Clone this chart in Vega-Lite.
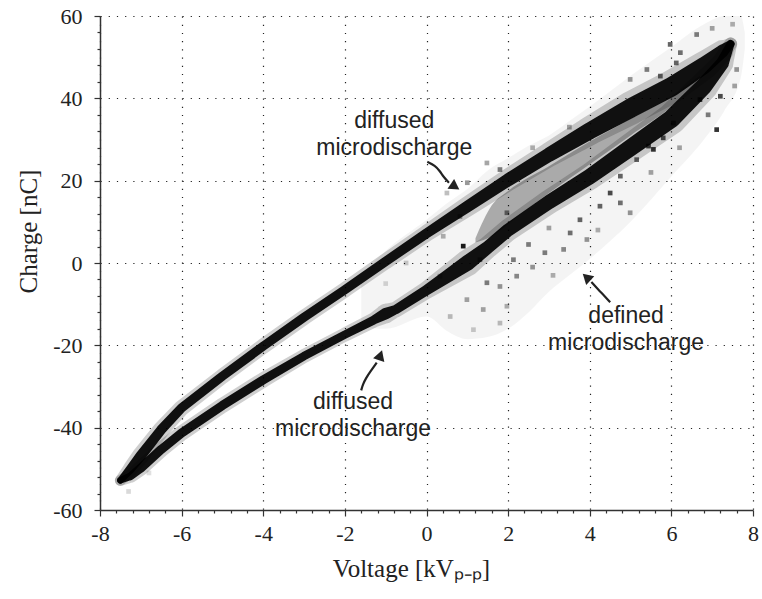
{
  "$schema": "https://vega.github.io/schema/vega-lite/v6.json",
  "width": 653,
  "height": 494,
  "autosize": {"type": "none"},
  "padding": {"left": 100, "top": 16, "right": 9, "bottom": 89},
  "background": "white",
  "config": {
    "view": {"stroke": null},
    "locale": {"number": {"decimal": ".", "thousands": ",", "grouping": [3], "currency": ["$", ""], "minus": "-"}},
    "axis": {"labelFont": "Liberation Serif", "labelFontSize": 22, "labelColor": "#222"}
  },
  "resolve": {"axis": {"x": "independent", "y": "independent"}},
  "datasets": {
    "envelope": [
      {"v": -1.6, "q": -15.5, "q2": -3},
      {"v": -1, "q": -16, "q2": 3},
      {"v": 0, "q": -13, "q2": 10.5},
      {"v": 0.5, "q": -16.5, "q2": 14.5},
      {"v": 1, "q": -18.5, "q2": 18},
      {"v": 1.5, "q": -18, "q2": 22.5},
      {"v": 2, "q": -16, "q2": 25.5},
      {"v": 2.5, "q": -12, "q2": 28.5},
      {"v": 3, "q": -7, "q2": 31},
      {"v": 3.5, "q": -3, "q2": 34.5},
      {"v": 4, "q": 1, "q2": 38},
      {"v": 5, "q": 10, "q2": 45.5},
      {"v": 6, "q": 21, "q2": 52.5},
      {"v": 6.8, "q": 30, "q2": 58},
      {"v": 7.3, "q": 37, "q2": 60},
      {"v": 7.7, "q": 45, "q2": 60},
      {"v": 7.8, "q": 52, "q2": 56}
    ],
    "inner": [
      {"v": 1.2, "q": 5, "q2": 6},
      {"v": 1.6, "q": 6.5, "q2": 14},
      {"v": 2, "q": 9.5, "q2": 17.5},
      {"v": 3, "q": 17, "q2": 23.5},
      {"v": 4, "q": 24, "q2": 29.5},
      {"v": 5, "q": 31, "q2": 35},
      {"v": 6, "q": 38, "q2": 40.5},
      {"v": 6.7, "q": 45, "q2": 45.5}
    ],
    "branches": [
      {"branch": "upper", "i": 1, "v": -7.5, "q": -52.8, "spread": 2.5},
      {"branch": "upper", "i": 2, "v": -7.25, "q": -50, "spread": 3.5},
      {"branch": "upper", "i": 3, "v": -7.0, "q": -46.8, "spread": 4},
      {"branch": "upper", "i": 4, "v": -6.5, "q": -40.5, "spread": 3.8},
      {"branch": "upper", "i": 5, "v": -6.0, "q": -35.2, "spread": 3.6},
      {"branch": "upper", "i": 6, "v": -5.0, "q": -27.5, "spread": 3.5},
      {"branch": "upper", "i": 7, "v": -4.0, "q": -20.2, "spread": 3.5},
      {"branch": "upper", "i": 8, "v": -3.0, "q": -13.2, "spread": 3.5},
      {"branch": "upper", "i": 9, "v": -2.0, "q": -6.5, "spread": 3.5},
      {"branch": "upper", "i": 10, "v": -1.0, "q": 0.4, "spread": 3.6},
      {"branch": "upper", "i": 11, "v": 0.0, "q": 7.2, "spread": 3.8},
      {"branch": "upper", "i": 12, "v": 1.0, "q": 13.7, "spread": 4.5},
      {"branch": "upper", "i": 13, "v": 2.0, "q": 20.2, "spread": 5},
      {"branch": "upper", "i": 14, "v": 3.0, "q": 26.3, "spread": 5.5},
      {"branch": "upper", "i": 15, "v": 4.0, "q": 32.1, "spread": 6.5},
      {"branch": "upper", "i": 16, "v": 5.0, "q": 37.6, "spread": 7.5},
      {"branch": "upper", "i": 17, "v": 6.0, "q": 42.8, "spread": 7.5},
      {"branch": "upper", "i": 18, "v": 6.8, "q": 48.0, "spread": 6.5},
      {"branch": "upper", "i": 19, "v": 7.25, "q": 51.5, "spread": 5},
      {"branch": "upper", "i": 20, "v": 7.45, "q": 53.2, "spread": 3},
      {"branch": "lower", "i": 1, "v": -7.5, "q": -52.8, "spread": 2.5},
      {"branch": "lower", "i": 2, "v": -7.25, "q": -51.8, "spread": 3},
      {"branch": "lower", "i": 3, "v": -7.0, "q": -49.8, "spread": 3.5},
      {"branch": "lower", "i": 4, "v": -6.5, "q": -45.3, "spread": 3.5},
      {"branch": "lower", "i": 5, "v": -6.0, "q": -41.3, "spread": 3.5},
      {"branch": "lower", "i": 6, "v": -5.0, "q": -34.6, "spread": 3.5},
      {"branch": "lower", "i": 7, "v": -4.0, "q": -28.4, "spread": 3.5},
      {"branch": "lower", "i": 8, "v": -3.0, "q": -22.6, "spread": 3.2},
      {"branch": "lower", "i": 9, "v": -2.0, "q": -17.4, "spread": 3.2},
      {"branch": "lower", "i": 10, "v": -1.3, "q": -13.9, "spread": 3.4},
      {"branch": "lower", "i": 11, "v": -1.0, "q": -12.3, "spread": 4.5},
      {"branch": "lower", "i": 12, "v": -0.75, "q": -11.3, "spread": 3.6},
      {"branch": "lower", "i": 13, "v": 0.0, "q": -6.6, "spread": 4},
      {"branch": "lower", "i": 14, "v": 0.5, "q": -3.3, "spread": 5},
      {"branch": "lower", "i": 15, "v": 1.0, "q": 0.0, "spread": 6},
      {"branch": "lower", "i": 16, "v": 1.5, "q": 3.8, "spread": 5},
      {"branch": "lower", "i": 17, "v": 2.0, "q": 8.0, "spread": 5},
      {"branch": "lower", "i": 18, "v": 3.0, "q": 14.8, "spread": 5.5},
      {"branch": "lower", "i": 19, "v": 4.0, "q": 21.0, "spread": 6},
      {"branch": "lower", "i": 20, "v": 5.0, "q": 28.0, "spread": 6.5},
      {"branch": "lower", "i": 21, "v": 6.0, "q": 35.0, "spread": 7},
      {"branch": "lower", "i": 22, "v": 6.8, "q": 43.0, "spread": 6.5},
      {"branch": "lower", "i": 23, "v": 7.25, "q": 48.5, "spread": 5},
      {"branch": "lower", "i": 24, "v": 7.45, "q": 53.2, "spread": 3}
    ],
    "specks": [
      {"v": 0.9, "q": 4.1, "d": 0.9},
      {"v": 1.31, "q": 0.8, "d": 0.5},
      {"v": 1.48, "q": -4.8, "d": 0.5},
      {"v": 1.8, "q": -5.7, "d": 0.4},
      {"v": 0.99, "q": -8.9, "d": 0.35},
      {"v": 0.58, "q": -13, "d": 0.25},
      {"v": 1.39, "q": -11.3, "d": 0.35},
      {"v": 1.97, "q": -10.5, "d": 0.3},
      {"v": 1.8, "q": -14.6, "d": 0.25},
      {"v": 1.15, "q": -16.2, "d": 0.2},
      {"v": 2.13, "q": 0.8, "d": 0.5},
      {"v": 2.21, "q": -3.2, "d": 0.45},
      {"v": 0.33, "q": -3.2, "d": 0.3},
      {"v": 2.6, "q": -1, "d": 0.4},
      {"v": 2.9, "q": 2.5, "d": 0.5},
      {"v": 3.1, "q": -3, "d": 0.3},
      {"v": 3.36, "q": 3.3, "d": 0.45},
      {"v": 3.52, "q": 7.3, "d": 0.55},
      {"v": 3.76, "q": 10.5, "d": 0.6},
      {"v": 3.93, "q": 5.7, "d": 0.4},
      {"v": 4.25, "q": 13.8, "d": 0.6},
      {"v": 4.5, "q": 17, "d": 0.7},
      {"v": 4.75, "q": 14.6, "d": 0.55},
      {"v": 4.99, "q": 12.2, "d": 0.4},
      {"v": 4.75, "q": 21.1, "d": 0.6},
      {"v": 5.15, "q": 25.1, "d": 0.6},
      {"v": 5.44, "q": 28.4, "d": 0.75},
      {"v": 5.56, "q": 27.6, "d": 0.8},
      {"v": 5.8, "q": 30.4, "d": 0.7},
      {"v": 6.05, "q": 34, "d": 0.7},
      {"v": 7.11, "q": 32.4, "d": 0.8},
      {"v": 6.7, "q": 39.7, "d": 0.8},
      {"v": 7.2, "q": 40.5, "d": 0.7},
      {"v": 6.9, "q": 36, "d": 0.5},
      {"v": 5.5, "q": 22, "d": 0.35},
      {"v": 6.2, "q": 28, "d": 0.35},
      {"v": 4.2, "q": 8, "d": 0.3},
      {"v": 3.0, "q": 8.5, "d": 0.35},
      {"v": 2.5, "q": 4.5, "d": 0.5},
      {"v": 1.48, "q": 24.3, "d": 0.35},
      {"v": 1.8, "q": 22.7, "d": 0.5},
      {"v": 0.5, "q": 17, "d": 0.25},
      {"v": 1.0, "q": 19.5, "d": 0.4},
      {"v": 2.6, "q": 28, "d": 0.3},
      {"v": 3.5, "q": 33, "d": 0.35},
      {"v": 4.99, "q": 44.6, "d": 0.4},
      {"v": 5.4, "q": 47, "d": 0.5},
      {"v": 5.73, "q": 45.4, "d": 0.6},
      {"v": 5.97, "q": 53.1, "d": 0.6},
      {"v": 6.12, "q": 48.6, "d": 0.6},
      {"v": 6.22, "q": 51.1, "d": 0.55},
      {"v": 6.62, "q": 55.5, "d": 0.5},
      {"v": 7.0, "q": 57, "d": 0.35},
      {"v": 7.5, "q": 58, "d": 0.3},
      {"v": 7.6, "q": 47, "d": 0.4},
      {"v": 7.55, "q": 43, "d": 0.35},
      {"v": 0.82, "q": 11.3, "d": 0.4},
      {"v": 0.41, "q": 6.5, "d": 0.3},
      {"v": 1.97, "q": 12.2, "d": 0.5},
      {"v": -0.5, "q": 0, "d": 0.2},
      {"v": -1, "q": -5, "d": 0.15},
      {"v": -7.3, "q": -55.5, "d": 0.15},
      {"v": -6.8, "q": -51, "d": 0.12}
    ],
    "arrows": [
      {"arrow": "a1", "i": 1, "v": 0.02, "q": 24.57},
      {"arrow": "a1", "i": 2, "v": 0.21, "q": 23.67},
      {"arrow": "a1", "i": 3, "v": 0.33, "q": 22.3},
      {"arrow": "a1", "i": 4, "v": 0.42, "q": 20.9},
      {"arrow": "a1", "i": 5, "v": 0.55, "q": 19.5},
      {"arrow": "a2", "i": 1, "v": -1.6, "q": -30.94},
      {"arrow": "a2", "i": 2, "v": -1.56, "q": -29.55},
      {"arrow": "a2", "i": 3, "v": -1.48, "q": -27.9},
      {"arrow": "a2", "i": 4, "v": -1.37, "q": -26.3},
      {"arrow": "a2", "i": 5, "v": -1.22, "q": -24.2},
      {"arrow": "a3", "i": 1, "v": 4.5, "q": -9.55},
      {"arrow": "a3", "i": 2, "v": 4.37, "q": -8.09},
      {"arrow": "a3", "i": 3, "v": 4.21, "q": -6.46},
      {"arrow": "a3", "i": 4, "v": 4.04, "q": -4.6}
    ],
    "heads": [
      {"arrow": "a1", "v": 0.7, "q": 18.54},
      {"arrow": "a2", "v": -1.13, "q": -22.4},
      {"arrow": "a3", "v": 3.92, "q": -3.43}
    ],
    "notes": [
      {"v": -0.79, "q": 32.9, "label": "diffused\nmicrodischarge"},
      {"v": -1.8, "q": -35.4, "label": "diffused\nmicrodischarge"},
      {"v": 4.89, "q": -14.56, "label": "defined\nmicrodischarge"}
    ]
  },
  "layer": [
    {
      "data": {"name": "heads"},
      "mark": {"type": "point", "opacity": 0},
      "encoding": {
        "x": {
          "field": "v", "type": "quantitative",
          "scale": {"domain": [-8, 8], "nice": false, "zero": false},
          "axis": {
            "orient": "bottom", "title": null, "labels": false, "domain": false, "grid": false,
            "values": [-7.6, -7.2, -6.8, -6.4, -5.6, -5.2, -4.8, -4.4, -3.6, -3.2, -2.8, -2.4, -1.6, -1.2, -0.8, -0.4, 0.4, 0.8, 1.2, 1.6, 2.4, 2.8, 3.2, 3.6, 4.4, 4.8, 5.2, 5.6, 6.4, 6.8, 7.2, 7.6],
            "tickSize": 3, "tickColor": "#333", "tickWidth": 1.2
          }
        },
        "y": {
          "field": "q", "type": "quantitative",
          "scale": {"domain": [-60, 60], "nice": false, "zero": false},
          "axis": {
            "orient": "left", "title": null, "labels": false, "domain": false, "grid": false,
            "values": [-56, -52, -48, -44, -36, -32, -28, -24, -16, -12, -8, -4, 4, 8, 12, 16, 24, 28, 32, 36, 44, 48, 52, 56],
            "tickSize": 3, "tickColor": "#333", "tickWidth": 1.2
          }
        }
      }
    },
    {
      "encoding": {
        "x": {
          "field": "v", "type": "quantitative",
          "scale": {"domain": [-8, 8], "nice": false, "zero": false},
          "axis": {
            "orient": "bottom",
            "title": "Voltage [kVₚ₋ₚ]",
            "values": [-8, -6, -4, -2, 0, 2, 4, 6, 8],
            "format": "d",
            "labelFont": "Liberation Serif", "labelFontSize": 22, "labelColor": "#222",
            "labelPadding": 7, "labelOverlap": false, "labelFlush": false, "labelBound": false,
            "tickSize": 6, "tickColor": "#333", "tickWidth": 1.2,
            "domainColor": "#333", "domainWidth": 1.5,
            "grid": true, "gridColor": "#222", "gridDash": [1.2, 7], "gridWidth": 1.2,
            "titleFont": "Liberation Serif", "titleFontSize": 25, "titleFontWeight": "normal", "titleColor": "#222",
            "titleX": 311, "titleY": 66, "titleAlign": "center", "titleBaseline": "alphabetic"
          }
        },
        "y": {
          "field": "q", "type": "quantitative",
          "scale": {"domain": [-60, 60], "nice": false, "zero": false},
          "axis": {
            "orient": "left",
            "title": "Charge [nC]",
            "values": [-60, -40, -20, 0, 20, 40, 60],
            "format": "d",
            "labelFont": "Liberation Serif", "labelFontSize": 22, "labelColor": "#222",
            "labelPadding": 12, "labelOverlap": false, "labelFlush": false, "labelBound": false,
            "tickSize": 6, "tickColor": "#333", "tickWidth": 1.2,
            "domainColor": "#333", "domainWidth": 1.5,
            "grid": true, "gridColor": "#222", "gridDash": [1.2, 7], "gridWidth": 1.2,
            "titleFont": "Liberation Serif", "titleFontSize": 25, "titleFontWeight": "normal", "titleColor": "#222",
            "titleX": -72, "titleY": 215, "titleAngle": -90, "titleAlign": "center", "titleBaseline": "middle"
          }
        }
      },
      "resolve": {"scale": {"size": "independent"}},
      "layer": [
        {
          "data": {"name": "envelope"},
          "mark": {"type": "area", "color": "#000", "opacity": 0.045, "interpolate": "monotone"},
          "encoding": {"y2": {"field": "q2"}}
        },
        {
          "data": {"name": "inner"},
          "mark": {"type": "area", "color": "#000", "opacity": 0.3, "interpolate": "monotone"},
          "encoding": {"y2": {"field": "q2"}}
        },
        {
          "data": {"name": "specks"},
          "mark": {"type": "point", "shape": "square", "filled": true, "size": 22, "color": "#000"},
          "encoding": {
            "opacity": {"field": "d", "type": "quantitative", "scale": null, "legend": null}
          }
        },
        {
          "data": {"name": "branches"},
          "mark": {"type": "trail", "color": "#111", "opacity": 0.2},
          "encoding": {
            "size": {"field": "spread", "type": "quantitative", "scale": {"domain": [0, 10], "range": [0, 44]}, "legend": null},
            "detail": {"field": "branch"},
            "order": {"field": "i", "type": "quantitative"}
          }
        },
        {
          "data": {"name": "branches"},
          "mark": {"type": "trail", "color": "#000", "opacity": 0.92},
          "encoding": {
            "size": {"field": "spread", "type": "quantitative", "scale": {"domain": [0, 10], "range": [0, 26]}, "legend": null},
            "detail": {"field": "branch"},
            "order": {"field": "i", "type": "quantitative"}
          }
        },
        {
          "data": {"name": "arrows"},
          "mark": {"type": "line", "color": "#222", "strokeWidth": 2.2, "interpolate": "basis"},
          "encoding": {
            "detail": {"field": "arrow"},
            "order": {"field": "i", "type": "quantitative"}
          }
        },
        {
          "data": {"name": "heads"},
          "transform": [{"filter": "datum.arrow === 'a1'"}],
          "mark": {"type": "point", "shape": "triangle-up", "filled": true, "size": 140, "color": "#222", "opacity": 1, "angle": 124},
          "encoding": {}
        },
        {
          "data": {"name": "heads"},
          "transform": [{"filter": "datum.arrow === 'a2'"}],
          "mark": {"type": "point", "shape": "triangle-up", "filled": true, "size": 140, "color": "#222", "opacity": 1, "angle": 19},
          "encoding": {}
        },
        {
          "data": {"name": "heads"},
          "transform": [{"filter": "datum.arrow === 'a3'"}],
          "mark": {"type": "point", "shape": "triangle-up", "filled": true, "size": 140, "color": "#222", "opacity": 1, "angle": -47},
          "encoding": {}
        },
        {
          "data": {"name": "notes"},
          "mark": {"type": "text", "font": "Liberation Sans", "fontSize": 23, "color": "#222", "align": "center", "baseline": "alphabetic", "lineBreak": "\n", "lineHeight": 27},
          "encoding": {"text": {"field": "label"}}
        }
      ]
    }
  ]
}
